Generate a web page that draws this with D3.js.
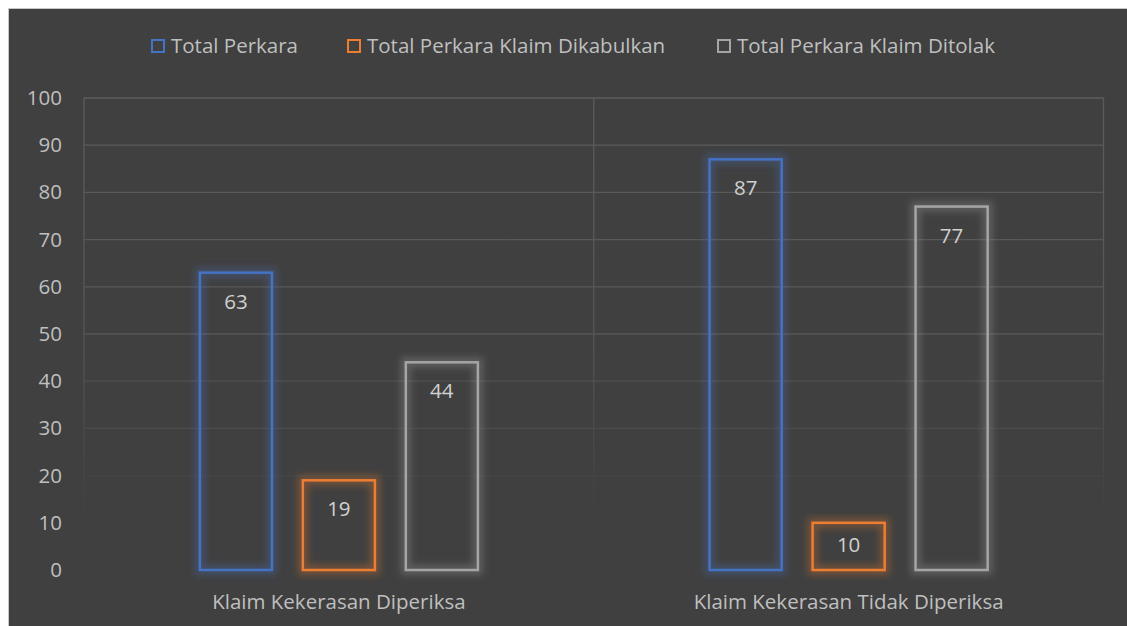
<!DOCTYPE html>
<head>
  <meta charset="utf-8">
  <script src="https://d3js.org/d3.v7.min.js"></script>
  <style>
    body { margin:0; background:#fff; }
    text { font-family: "Open Sans", sans-serif; }
  </style>
</head>
<body>
  <svg id="chart" width="1127" height="626"></svg>
  <script>
    // data
    var categories = ["Klaim Kekerasan Diperiksa", "Klaim Kekerasan Tidak Diperiksa"];
    var seriesNames = ["Total Perkara", "Total Perkara Klaim Dikabulkan", "Total Perkara Klaim Ditolak"];
    var totalPerkara = [63, 87];
    var dikabulkan = [19, 10];
    var ditolak = [44, 77];
    var yTicks = [0, 10, 20, 30, 40, 50, 60, 70, 80, 90, 100];
    var colors = ["#4472C4", "#ED7D31", "#A5A5A5"];

    var seriesValues = [totalPerkara, dikabulkan, ditolak];

    var svg = d3.select("#chart");
    var plotL = 84, plotR = 1103.5, plotT = 98, plotB = 570, fadeB = 520;
    var font = "'Open Sans', sans-serif";

    // background
    svg.append("rect")
      .attr("x", 8.5).attr("y", 8.5)
      .attr("width", 1127).attr("height", 626)
      .attr("fill", "#404040")
      .attr("stroke", "#c8c8c8");

    var defs = svg.append("defs");
    var grad = defs.append("linearGradient")
      .attr("id", "gridfade")
      .attr("gradientUnits", "userSpaceOnUse")
      .attr("x1", 0).attr("y1", plotT).attr("x2", 0).attr("y2", fadeB);
    grad.append("stop").attr("offset", "0").attr("stop-color", "#5c5c5c");
    grad.append("stop").attr("offset", "0.55").attr("stop-color", "#565656");
    grad.append("stop").attr("offset", "1").attr("stop-color", "#404040");

    var glow = defs.append("filter").attr("id", "glow")
      .attr("x", "-30%").attr("y", "-20%").attr("width", "160%").attr("height", "140%");
    glow.append("feGaussianBlur").attr("stdDeviation", 3.5);

    var x0 = d3.scaleBand().domain(categories).range([plotL, plotR]);
    var x1 = d3.scaleBand().domain(seriesNames)
      .range([0, x0.bandwidth()])
      .paddingInner(0.3).paddingOuter(1.125);
    var y = d3.scaleLinear().domain([0, 100]).range([plotB, plotT]);

    // horizontal gridlines
    svg.append("g").selectAll("line")
      .data(yTicks.filter(function(d) { return d > 0; }))
      .join("line")
      .attr("x1", plotL).attr("x2", plotR)
      .attr("y1", function(d) { return y(d); })
      .attr("y2", function(d) { return y(d); })
      .attr("stroke", "url(#gridfade)")
      .attr("stroke-width", 1.3);

    // vertical separators
    var vx = [plotL, x0(categories[1]), plotR];
    svg.append("g").selectAll("line")
      .data(vx).join("line")
      .attr("x1", function(d) { return d; }).attr("x2", function(d) { return d; })
      .attr("y1", plotT).attr("y2", fadeB)
      .attr("stroke", "url(#gridfade)")
      .attr("stroke-width", 1.3);

    // y axis labels
    var yAxis = d3.axisLeft(y).tickValues(yTicks).tickSize(0).tickPadding(0);
    var ya = svg.append("g").attr("transform", "translate(62,0)").call(yAxis);
    ya.select(".domain").remove();
    ya.selectAll("text").attr("fill", "#bfbfbf").style("font-size", "20.5px")
      .style("font-family", font);

    // x axis labels
    var xAxis = d3.axisBottom(x0).tickSize(0).tickPadding(0);
    var xa = svg.append("g").attr("transform", "translate(0,609)").call(xAxis);
    xa.select(".domain").remove();
    xa.selectAll("text").attr("fill", "#bfbfbf").attr("dy", "0")
      .style("font-size", "20.5px")
      .style("font-family", font);

    // bars
    var rows = [];
    categories.forEach(function(c, ci) {
      seriesNames.forEach(function(s, si) {
        rows.push({ cat: c, series: s, value: seriesValues[si][ci], color: colors[si] });
      });
    });

    var groups = svg.append("g").selectAll("g")
      .data(rows).join("g")
      .attr("transform", function(d) { return "translate(" + (x0(d.cat) + x1(d.series)) + ",0)"; });

    groups.append("rect")
      .attr("x", 0).attr("width", x1.bandwidth())
      .attr("y", function(d) { return y(d.value); })
      .attr("height", function(d) { return y(0) - y(d.value); })
      .attr("fill", "none")
      .attr("stroke", function(d) { return d.color; })
      .attr("stroke-width", 10)
      .attr("stroke-opacity", 0.3)
      .attr("filter", "url(#glow)");

    groups.append("rect")
      .attr("x", 0).attr("width", x1.bandwidth())
      .attr("y", function(d) { return y(d.value); })
      .attr("height", function(d) { return y(0) - y(d.value); })
      .attr("fill", "none")
      .attr("stroke", function(d) { return d.color; })
      .attr("stroke-width", 2.5);

    // labels sit inside the top end, pulled to the middle on short bars
    groups.append("text")
      .attr("x", x1.bandwidth() / 2)
      .attr("y", function(d) {
        var t = y(d.value);
        return Math.min(t + 36, (t + y(0)) / 2 + 6);
      })
      .attr("text-anchor", "middle")
      .attr("fill", "#d0d0d0")
      .style("font-size", "20.5px")
      .text(function(d) { return d.value; });

    // legend
    var legendX = [151, 347, 717];
    var lg = svg.append("g").selectAll("g")
      .data(seriesNames).join("g")
      .attr("transform", function(d, i) { return "translate(" + legendX[i] + ",39)"; });
    lg.append("rect")
      .attr("x", 1).attr("y", 1).attr("width", 12).attr("height", 12)
      .attr("fill", "none")
      .attr("stroke", function(d, i) { return colors[i]; })
      .attr("stroke-width", 2);
    lg.append("text")
      .attr("x", 20).attr("y", 14)
      .attr("fill", "#bfbfbf")
      .style("font-size", "20.5px")
      .text(function(d) { return d; });
  </script>
</body>
